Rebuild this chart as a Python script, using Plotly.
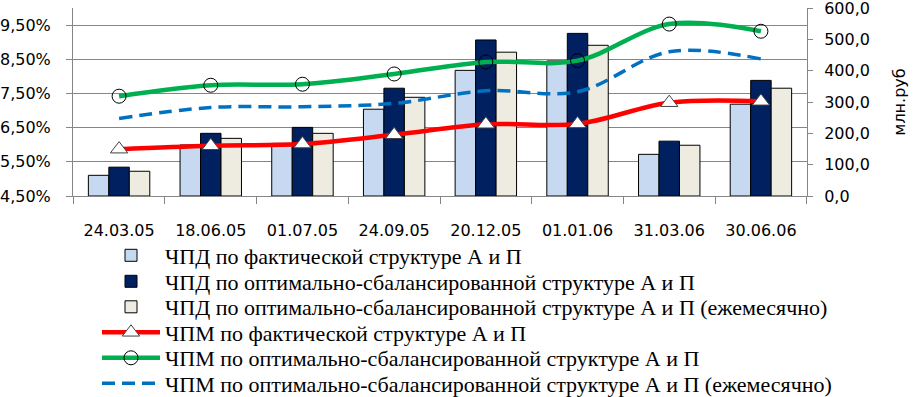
import plotly.graph_objects as go

categories = ["24.03.05", "18.06.05", "01.07.05", "24.09.05",
              "20.12.05", "01.01.06", "31.03.06", "30.06.06"]

# bars, млн.руб (right axis)
chpd_fact = [66, 163, 168, 277, 401, 431, 133, 293]
chpd_opt = [92, 200, 219, 344, 498, 519, 175, 369]
chpd_opt_month = [79, 184, 200, 315, 459, 481, 162, 344]

# lines, % (left axis)
chpm_fact = [5.87, 5.97, 6.02, 6.29, 6.60, 6.61, 7.23, 7.27]
chpm_opt = [7.42, 7.74, 7.77, 8.07, 8.42, 8.46, 9.53, 9.32]
chpm_opt_month = [6.77, 7.09, 7.11, 7.21, 7.58, 7.55, 8.72, 8.51]

names = [
    "ЧПД по фактической структуре А и П",
    "ЧПД по оптимально-сбалансированной структуре А и П",
    "ЧПД по оптимально-сбалансированной структуре А и П (ежемесячно)",
    "ЧПМ по фактической структуре А и П",
    "ЧПМ по оптимально-сбалансированной структуре А и П",
    "ЧПМ по оптимально-сбалансированной структуре А и П (ежемесячно)",
]

L, R, T, B = 73, 109, 8, 201
W, H = 916, 397
PH = H - T - B
PW = W - L - R

fig = go.Figure()

bar_colors = ["#C6D9F1", "#002060", "#EEECE1"]
for i, (vals, col) in enumerate(zip([chpd_fact, chpd_opt, chpd_opt_month], bar_colors)):
    fig.add_trace(go.Bar(
        x=categories, y=vals, name=names[i], yaxis="y",
        marker=dict(color=col, line=dict(color="#000000", width=1)),
        legend="legend" if i == 0 else f"legend{i+1}",
    ))

fig.add_trace(go.Scatter(
    x=categories, y=chpm_fact, name=names[3], yaxis="y2", mode="lines+markers",
    line=dict(color="#FF0000", width=4.5, shape="spline", smoothing=1),
    marker=dict(symbol="triangle-up", size=15, color="#FFFFFF",
                line=dict(color="#404040", width=1)),
    legend="legend4",
))
fig.add_trace(go.Scatter(
    x=categories, y=chpm_opt, name=names[4], yaxis="y2", mode="lines+markers",
    line=dict(color="#00B050", width=4.5, shape="spline", smoothing=1),
    marker=dict(symbol="circle-open", size=14, color="#000000",
                line=dict(color="#000000", width=1)),
    legend="legend5",
))
fig.add_trace(go.Scatter(
    x=categories, y=chpm_opt_month, name=names[5], yaxis="y2", mode="lines",
    line=dict(color="#0070C0", width=3.5, shape="spline", smoothing=1, dash="13px,7px"),
    legend="legend6",
))

row_centers = [255.5, 281.5, 307, 332.5, 358, 383.5]
leg_font = dict(family="Liberation Serif", size=22, color="#000000")
legends = {}
for i, yc in enumerate(row_centers):
    key = "legend" if i == 0 else f"legend{i+1}"
    legends[key] = dict(
        x=(97 - L) / PW, xanchor="left",
        y=(H - B - yc) / PH, yanchor="middle",
        bgcolor="rgba(0,0,0,0)", borderwidth=0,
        font=leg_font, itemwidth=58, itemclick=False, itemdoubleclick=False,
    )

grid_col = "#868686"
tick_font = dict(family="DejaVu Sans", size=16, color="#000000")

fig.update_layout(
    width=W, height=H,
    margin=dict(l=L, r=R, t=T, b=B, pad=0, autoexpand=False),
    paper_bgcolor="#FFFFFF", plot_bgcolor="#FFFFFF",
    separators=", ",
    barmode="group", bargap=0.33, bargroupgap=0,
    xaxis=dict(
        type="category", showline=True, linecolor=grid_col, linewidth=1,
        ticks="outside", tickson="boundaries", ticklen=7, tickcolor=grid_col,
        showgrid=False, tickfont=tick_font, ticklabelstandoff=20,
    ),
    yaxis=dict(
        side="right", range=[0, 600], dtick=100, tick0=0, tickformat=".1f",
        showline=True, linecolor=grid_col, linewidth=1,
        ticks="outside", ticklen=5, tickcolor=grid_col,
        showgrid=False, zeroline=False, tickfont=tick_font,
        title=dict(text="млн.руб", font=dict(family="DejaVu Sans", size=16, color="#000000"),
                   standoff=24),
        ticklabelstandoff=8, ticklabeloverflow="allow",
    ),
    yaxis2=dict(
        overlaying="y", side="left", range=[4.5, 10.0], dtick=1, tick0=4.5,
        tickformat=".2f", ticksuffix="%",
        showline=True, linecolor=grid_col, linewidth=1,
        ticks="outside", ticklen=6, tickcolor=grid_col,
        showgrid=True, gridcolor=grid_col, gridwidth=1, zeroline=False,
        tickfont=tick_font, ticklabelstandoff=12, ticklabeloverflow="allow",
    ),
    showlegend=True,
    **legends,
)

fig.write_html("out.html", config={"displayModeBar": False},
               post_script="document.body.style.margin='0';")
